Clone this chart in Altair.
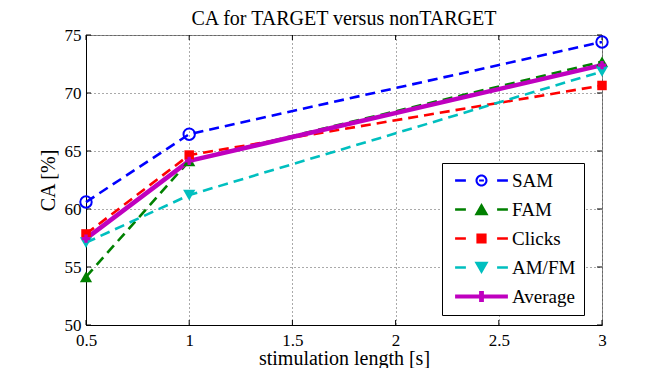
import altair as alt
import pandas as pd

# ---- data ----
x_vals = [0.5, 1, 3]
series = ["SAM", "FAM", "Clicks", "AM/FM", "Average"]
sam = [60.6, 66.45, 74.4]
fam = [54.15, 64.15, 72.7]
clicks = [57.85, 64.65, 70.65]
amfm = [57.1, 61.2, 71.85]
average = [57.45, 64.15, 72.4]
colors = ["#0000FF", "#008000", "#FF0000", "#00BFBF", "#BF00BF"]
x_ticks = [0.5, 1, 1.5, 2, 2.5, 3]
y_ticks = [50, 55, 60, 65, 70, 75]

FONT = "Liberation Serif"

rows = []
for name, vals in zip(series, [sam, fam, clicks, amfm, average]):
    for i, (xv, yv) in enumerate(zip(x_vals, vals)):
        rows.append({"series": name, "x": xv, "y": yv, "ord": i})
df = pd.DataFrame(rows)

xs = alt.Scale(domain=[0.5, 3], nice=False, zero=False)
ys = alt.Scale(domain=[50, 75], nice=False, zero=False)
X = alt.X("x:Q", scale=xs,
          axis=alt.Axis(values=x_ticks, format="~g", title="stimulation length [s]",
                        labelFont=FONT, labelFontSize=17, titleFont=FONT))
Y = alt.Y("y:Q", scale=ys,
          axis=alt.Axis(values=y_ticks, title="CA [%]",
                        labelFont=FONT, labelFontSize=17, titleFont=FONT))

# inward tick marks (MATLAB style)
xt = pd.DataFrame({"t": x_ticks})
yt = pd.DataFrame({"t": y_ticks})
tick_layers = [
    alt.Chart(xt).mark_rule(color="#000", strokeWidth=1).encode(
        x=alt.X("t:Q", scale=xs), y=alt.value(290), y2=alt.value(285)),
    alt.Chart(xt).mark_rule(color="#000", strokeWidth=1).encode(
        x=alt.X("t:Q", scale=xs), y=alt.value(0), y2=alt.value(5)),
    alt.Chart(yt).mark_rule(color="#000", strokeWidth=1).encode(
        y=alt.Y("t:Q", scale=ys), x=alt.value(0), x2=alt.value(5)),
    alt.Chart(yt).mark_rule(color="#000", strokeWidth=1).encode(
        y=alt.Y("t:Q", scale=ys), x=alt.value(516), x2=alt.value(511)),
]

point_style = {
    "SAM": dict(shape="circle", filled=False, size=130, strokeWidth=2),
    "FAM": dict(shape="triangle-up", filled=True, size=150, strokeWidth=1),
    "Clicks": dict(shape="square", filled=True, size=90, strokeWidth=1),
    "AM/FM": dict(shape="triangle-down", filled=True, size=150, strokeWidth=1),
    "Average": dict(shape="cross", filled=True, size=70, strokeWidth=0),
}

layers = []
for name, col in zip(series, colors):
    base = alt.Chart(df).transform_filter(alt.datum.series == name)
    if name == "Average":
        ln = base.mark_line(color=col, strokeWidth=4.5, strokeCap="butt", strokeJoin="round")
    else:
        ln = base.mark_line(color=col, strokeWidth=2.6, strokeDash=[10, 6], strokeCap="butt")
    layers.append(ln.encode(x=X, y=Y, order="ord:Q"))
for name, col in zip(series, colors):
    base = alt.Chart(df).transform_filter(alt.datum.series == name)
    st = point_style[name]
    pt = base.mark_point(color=col, opacity=1, **st)
    layers.append(pt.encode(x=X, y=Y))

# legend symbols: dash - marker - dash
dl = "M-4.4,-0.21L-2.6,-0.21L-2.6,0.21L-4.4,0.21Z"
dr = "M2.6,-0.21L4.4,-0.21L4.4,0.21L2.6,0.21Z"
ring = ("M0,-1A1,1,0,1,1,0,1A1,1,0,1,1,0,-1Z"
        "M0,-0.66A0.66,0.66,0,1,0,0,0.66A0.66,0.66,0,1,0,0,-0.66Z"
        "M-0.4,-0.17L0.4,-0.17L0.4,0.17L-0.4,0.17Z")
tri_up = "M0,-1.1L1.17,0.95L-1.17,0.95Z"
sq = "M-0.85,-0.85L0.85,-0.85L0.85,0.85L-0.85,0.85Z"
tri_dn = "M-1.17,-0.95L1.17,-0.95L0,1.1Z"
avg = ("M-4.4,-0.34L4.4,-0.34L4.4,0.34L-4.4,0.34Z"
       "M-0.4,-0.92L0.4,-0.92L0.4,0.92L-0.4,0.92Z")
paths = [dl + ring + dr, dl + tri_up + dr, dl + sq + dr, dl + tri_dn + dr, avg]

leg = alt.Legend(title=None, orient="none", legendX=356, legendY=128,
                 fillColor="white", strokeColor="#000", padding=8,
                 symbolSize=144, symbolStrokeWidth=0, symbolOpacity=1,
                 symbolOffset=22, labelOffset=21, rowPadding=9,
                 labelFont=FONT, labelFontSize=19, labelColor="#000",
                 labelExpr="datum.label + '\u00a0\u00a0\u00a0\u00a0'",
                 cornerRadius=0)
legend_layer = alt.Chart(df).mark_point(filled=True, opacity=0).encode(
    x=X, y=Y,
    color=alt.Color("series:N", scale=alt.Scale(domain=series, range=colors), legend=leg),
    shape=alt.Shape("series:N", scale=alt.Scale(domain=series, range=paths), legend=leg),
)

chart = alt.layer(*(tick_layers + layers + [legend_layer])).properties(
    width=516, height=290,
    padding={"left": 78, "top": 27, "right": 54, "bottom": 43},
    autosize=alt.AutoSizeParams(type="none"),
    title=alt.TitleParams("CA for TARGET versus nonTARGET", font=FONT, fontSize=20,
                          fontWeight="normal", color="#000", anchor="middle", offset=-3),
).configure_view(stroke="#888", strokeWidth=1).configure_axis(
    labelFont=FONT, labelFontSize=17, labelColor="#000", labelFlush=False,
    titleFont=FONT, titleFontSize=20, titleFontWeight="normal", titleColor="#000",
    domainColor="#000", domainWidth=1, tickSize=0,
    grid=True, gridColor="#444", gridDash=[1, 3], gridWidth=1, gridOpacity=0.9,
).configure_axisX(labelPadding=7, titlePadding=0).configure_axisY(labelPadding=5, titlePadding=6)

chart.save("out.html", embed_options={"renderer": "svg", "actions": False})
